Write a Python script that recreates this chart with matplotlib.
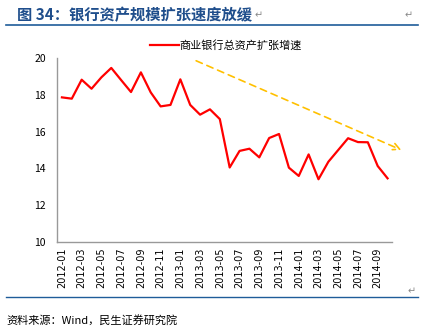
import matplotlib
matplotlib.use("Agg")
import matplotlib.pyplot as plt
from matplotlib.lines import Line2D

plt.rcParams['font.family'] = ['Noto Sans CJK SC', 'DejaVu Sans']

months = [f"{y}-{m:02d}" for y in (2012, 2013, 2014) for m in range(1, 13)][:34]
growth = [17.86, 17.79, 18.82, 18.33, 18.95, 19.46, 18.80, 18.15, 19.22, 18.13,
          17.37, 17.45, 18.84, 17.45, 16.92, 17.21, 16.68, 14.05, 14.95, 15.07,
          14.60, 15.65, 15.87, 14.04, 13.59, 14.76, 13.41, 14.36, 15.00, 15.64,
          15.43, 15.42, 14.13, 13.46]
series_name = "商业银行总资产扩张增速"
title = "图 34：银行资产规模扩张速度放缓"
source = "资料来源：Wind，民生证券研究院"
trend_start = (13.6, 19.85)
trend_end = (34.4, 15.0)

W, H = 426, 333
fig = plt.figure(figsize=(W / 100, H / 100), dpi=100)
ax = fig.add_axes([57 / W, 1 - 242 / H, (392.5 - 57) / W, (242 - 58) / H])

x = list(range(len(growth)))
ax.plot(x, growth, color='#FF0000', lw=1.6, label=series_name)
ax.annotate('', xy=trend_end, xytext=trend_start, annotation_clip=False,
            arrowprops=dict(arrowstyle='->', color='#FFC000', lw=1.2,
                            linestyle=(0, (4, 3)), shrinkA=0, shrinkB=0,
                            mutation_scale=12))

ax.set_xlim(-0.5, len(growth) - 0.5)
ax.set_ylim(10, 20)
ax.set_yticks([10, 12, 14, 16, 18, 20])
ax.set_xticks(x[::2])
ax.set_xticklabels(months[::2], rotation=90, fontsize=7, family=['DejaVu Sans'])
ax.tick_params(axis='y', labelsize=7.5, length=0, pad=8)
ax.tick_params(axis='x', length=0, pad=4)
for s in ('top', 'right'):
    ax.spines[s].set_visible(False)
for s in ('left', 'bottom'):
    ax.spines[s].set_color('#999999')
    ax.spines[s].set_linewidth(1.0)

leg = fig.legend(loc='center', bbox_to_anchor=(226 / W, 1 - 45 / H), frameon=False,
                 fontsize=8, handlelength=2.6, handletextpad=0.1)

fig.text(17 / W, 1 - 15 / H, title, fontsize=11, fontweight='bold', color='#1F4E8C',
         va='center', ha='left')
fig.text(255 / W, 1 - 15 / H, '↵', fontsize=7, color='#888888', va='center',
         family=['DejaVu Sans'])
fig.text(405 / W, 1 - 15 / H, '↵', fontsize=7, color='#888888', va='center',
         family=['DejaVu Sans'])
fig.text(408 / W, 1 - 291 / H, '↵', fontsize=7, color='#888888', va='center',
         family=['DejaVu Sans'])
fig.add_artist(Line2D([6 / W, 418 / W], [1 - 25 / H, 1 - 25 / H], color='#1F5C99', lw=1.2))
fig.add_artist(Line2D([6 / W, 418 / W], [1 - 297 / H, 1 - 297 / H], color='#1F5C99', lw=1.0))
fig.text(6 / W, 1 - 320 / H, source, fontsize=8, color='#000000', va='center', ha='left')

fig.savefig('out.png', dpi=100)
